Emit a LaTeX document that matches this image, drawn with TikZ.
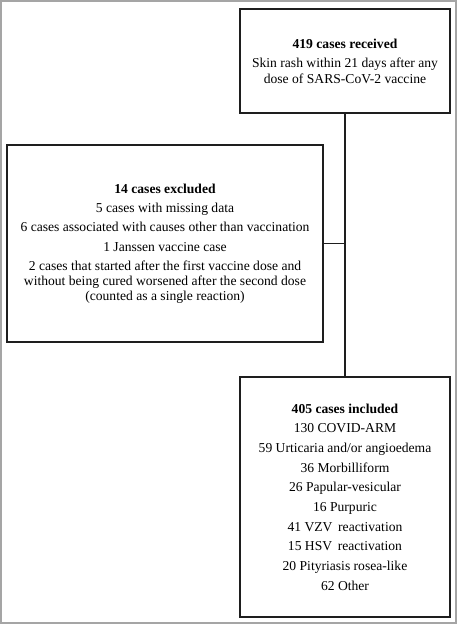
\documentclass[tikz,border=0pt]{standalone}
\usepackage{fontspec}
\setmainfont{Liberation Serif}
\definecolor{framegray}{RGB}{165,165,165}
\definecolor{boxline}{RGB}{30,30,30}
\tikzset{
  frame/.style={draw=framegray, line width=2pt},
  box/.style={draw=boxline, line width=1.7pt, rectangle, align=center, inner sep=0pt,
    font=\fontsize{13.6}{14.8}\selectfont, text=black},
  conn/.style={draw=boxline, line width=1.7pt}
}
\begin{document}
\begin{tikzpicture}[x=1pt,y=-1pt]
\useasboundingbox (0,0) rectangle (460,625);
\draw[frame] (1,1) rectangle (456,623);
\node[box, minimum width=210pt, minimum height=104pt] (top) at (345,61)
  {\textbf{419 cases received}\\[4.8pt]
   Skin rash within 21 days after any\\[0.6pt]
   dose of SARS-CoV-2 vaccine};
\node[box, minimum width=316pt, minimum height=197pt] (excl) at (165,243.5)
  {\textbf{14 cases excluded}\\[4.6pt]
   5 cases with missing data\\[4.6pt]
   6 cases associated with causes other than vaccination\\[4.6pt]
   1 Janssen vaccine case\\[4.6pt]
   2 cases that started after the first vaccine dose and\\
   without being cured worsened after the second dose\\
   (counted as a single reaction)};
\node[box, minimum width=210pt, minimum height=240pt] (incl) at (345,497)
  {\textbf{405 cases included}\\[4.9pt]
   130 COVID-ARM\\[4.9pt]
   59 Urticaria and/or angioedema\\[4.9pt]
   36 Morbilliform\\[4.9pt]
   26 Papular-vesicular\\[4.9pt]
   16 Purpuric\\[4.9pt]
   41 VZV\, reactivation\\[4.9pt]
   15 HSV\, reactivation\\[4.9pt]
   20 Pityriasis rosea-like\\[4.9pt]
   62 Other};
\draw[conn] (top.south) -- (incl.north);
\draw[conn] (excl.east) -- (excl.east -| top.south);
\end{tikzpicture}
\end{document}
